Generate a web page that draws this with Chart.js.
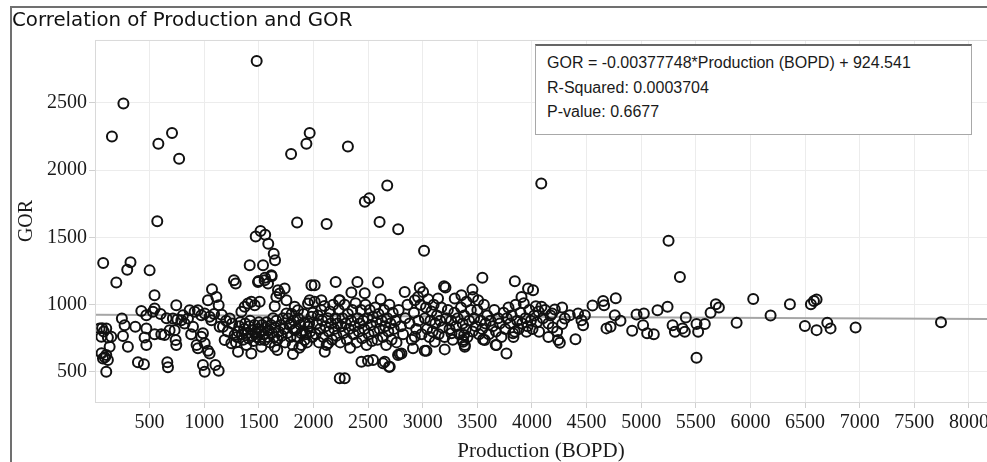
<!DOCTYPE html>
<html>
<head>
<meta charset="utf-8">
<script src="https://cdn.jsdelivr.net/npm/chart.js@4.4.1/dist/chart.umd.min.js"></script>
<style>
  html, body { margin: 0; padding: 0; background: #fff; }
  #wrap { position: relative; width: 987px; height: 462px; overflow: hidden; }
  #frame {
    position: absolute; left: 10px; top: 6px; width: 990px; height: 470px;
    border-left: 2px solid #707070; border-top: 2px solid #707070;
  }
  #chart { position: absolute; left: 0; top: 0; }
  #fit-box {
    position: absolute; left: 535px; top: 44px; width: 437px; height: 91px;
    background: #fff; border: 1px solid #a8a8a8; border-top: 2px solid #666;
    font-family: "Liberation Sans", Arial, sans-serif; font-size: 16px;
    line-height: 24.5px; color: #1a1a1a; padding: 5px 0 0 11px; box-sizing: border-box;
  }
</style>
</head>
<body>
<div id="wrap">
  <div id="frame"></div>
  <canvas id="chart" width="987" height="462"></canvas>
  <div id="fit-box"></div>
</div>
<script>
// regression shown in the box
const fitSlope = -0.00377748;
const fitIntercept = 924.541;
const fitText = [
  "GOR = -0.00377748*Production (BOPD) + 924.541",
  "R-Squared: 0.0003704",
  "P-value: 0.6677",
];

// [production BOPD, GOR]
const wellsBelow1000 = [
  [75, 1310], [195, 1165], [295, 1260], [325, 1315], [500, 1255], [545, 1070],
  [155, 2250], [260, 2495], [580, 2195], [705, 2275], [770, 2085], [570, 1620],
  [42, 824], [103, 824], [58, 761], [118, 757], [149, 761], [80, 800], [60, 640],
  [73, 601], [103, 626], [118, 589], [103, 502], [134, 687], [90, 610], [65, 825],
  [246, 898], [271, 848], [256, 767], [301, 687], [369, 836], [393, 572], [448, 557],
  [424, 954], [470, 922], [530, 947], [546, 972], [470, 824], [454, 757], [470, 700],
  [546, 781], [607, 781], [637, 774], [662, 572], [668, 535], [683, 811], [729, 811],
  [754, 890], [744, 700], [738, 737], [744, 996], [713, 898], [790, 885], [805, 922],
  [851, 898], [866, 959], [912, 947], [942, 959], [973, 922], [897, 836], [942, 676],
  [973, 761], [988, 787], [988, 552], [820, 860], [880, 780], [930, 700], [600, 930],
  [655, 900],
];

const wells1000to2000 = [
  [1004, 935], [1049, 910], [1065, 885], [1034, 1033], [1071, 1115], [1111, 1058],
  [1132, 996], [1004, 713], [1034, 658], [1049, 638], [1102, 552], [1132, 510],
  [1004, 502], [1141, 836], [1171, 836], [1187, 737], [1090, 930], [1160, 925],
  [1200, 880], [1215, 800], [1255, 860], [1233, 898], [1248, 713], [1278, 774],
  [1272, 1181], [1288, 1157], [1340, 947], [1370, 984], [1400, 1009], [1431, 1021],
  [1462, 996], [1507, 1021], [1309, 650], [1431, 638], [1523, 687], [1553, 737],
  [1645, 687], [1669, 663], [1812, 633], [1645, 989], [1660, 1058], [1690, 1083],
  [1736, 1120], [1752, 1033], [1584, 1157], [1614, 1219], [1553, 1181], [1416, 1293],
  [1538, 1293], [1492, 1169], [1471, 1507], [1515, 1547], [1558, 1520], [1586, 1453],
  [1636, 1379], [1648, 1330], [1850, 1610], [1480, 2810], [1795, 2120], [1935, 2195],
  [1965, 2275], [1828, 984], [1858, 959], [1950, 1009], [1981, 1144], [1965, 1033],
  [1981, 910], [1752, 935], [1767, 898], [1798, 861], [1828, 811], [1889, 787],
  [1950, 836], [1919, 737], [1889, 700], [1498, 1176], [1556, 1201], [1617, 1211],
  [1675, 1107],
  [1290, 720], [1300, 760], [1310, 800], [1320, 840], [1330, 870], [1345, 780],
  [1355, 740], [1365, 820], [1375, 860], [1385, 700], [1395, 790], [1405, 750],
  [1410, 840], [1420, 880], [1435, 810], [1440, 770], [1450, 730], [1460, 850],
  [1470, 790], [1480, 760], [1490, 820], [1500, 870], [1510, 740], [1520, 800],
  [1530, 850], [1540, 780], [1560, 830], [1570, 870], [1580, 760], [1590, 810],
  [1600, 720], [1610, 850], [1620, 790], [1630, 900], [1640, 760], [1650, 830],
  [1660, 880], [1670, 740], [1680, 800], [1700, 850], [1710, 770], [1720, 900],
  [1730, 820], [1740, 720], [1760, 790], [1780, 850], [1790, 760], [1800, 930],
  [1810, 700], [1820, 880], [1840, 820], [1850, 760], [1860, 900], [1870, 680],
  [1880, 850], [1900, 800], [1910, 930], [1920, 870], [1930, 780], [1940, 720],
  [1960, 860], [1970, 800], [1990, 760], [1995, 940],
];

const wells2000to3000 = [
  [2011, 1144], [2072, 1033], [2011, 1021], [2203, 1169], [2402, 1169], [2591, 1164],
  [2234, 1033], [2347, 1090], [2469, 1085], [2120, 1600], [2315, 2175], [2470, 1765],
  [2510, 1790], [2675, 1885], [2605, 1615], [2775, 1560], [2835, 1095], [2973, 1127],
  [2927, 1033], [2957, 1058], [2240, 1033], [2103, 650], [2133, 713], [2240, 453],
  [2286, 453], [2439, 576], [2499, 584], [2545, 589], [2652, 576], [2698, 539],
  [2636, 564], [2691, 539], [2774, 626], [2805, 638], [2789, 633], [2911, 676],
  [2927, 761],
  [2020, 780], [2030, 860], [2040, 920], [2050, 720], [2060, 820], [2070, 960],
  [2080, 880], [2090, 760], [2100, 990], [2110, 840], [2120, 700], [2130, 900],
  [2140, 800], [2150, 950], [2160, 860], [2170, 740], [2180, 1000], [2190, 820],
  [2200, 900], [2210, 770], [2220, 860], [2230, 960], [2245, 720], [2255, 840],
  [2265, 900], [2275, 790], [2285, 1000], [2295, 860], [2305, 740], [2315, 930],
  [2325, 820], [2335, 680], [2345, 880], [2355, 960], [2365, 780], [2375, 840],
  [2385, 1010], [2395, 720], [2405, 900], [2415, 800], [2425, 860], [2435, 960],
  [2445, 750], [2455, 880], [2465, 820], [2475, 1000], [2485, 700], [2495, 900],
  [2505, 780], [2515, 960], [2525, 850], [2535, 730], [2545, 910], [2555, 800],
  [2565, 980], [2575, 870], [2585, 740], [2595, 930], [2605, 820], [2615, 1040],
  [2625, 880], [2635, 760], [2645, 960], [2655, 840], [2665, 700], [2675, 900],
  [2685, 800], [2695, 1000], [2705, 860], [2715, 740], [2725, 940], [2735, 820],
  [2750, 880], [2760, 720], [2780, 960], [2800, 840], [2820, 780], [2840, 900],
  [2860, 1000], [2880, 860], [2900, 740], [2920, 940], [2940, 820], [2960, 880],
  [2980, 1000], [2990, 780],
];

const wells3000to4200 = [
  [3012, 1400], [3003, 1095], [3195, 1137], [3208, 1127], [3546, 1201], [3843, 1174],
  [3964, 1120], [4010, 1107], [3904, 1058], [3354, 1070], [3461, 1058], [3507, 1033],
  [3400, 1021], [3140, 1046], [3293, 1046], [3455, 1112], [4085, 1900], [3018, 658],
  [3034, 658], [3201, 668], [3369, 724], [3385, 687], [3369, 737], [3385, 700],
  [3379, 774], [3552, 742], [3568, 737], [3675, 700], [3668, 700], [3766, 638],
  [3263, 787], [3110, 724], [3827, 787], [3843, 799], [3950, 799], [4065, 799],
  [4035, 989], [4087, 984],
  [3020, 900], [3030, 980], [3040, 820], [3050, 1040], [3060, 760], [3070, 880],
  [3080, 950], [3090, 800], [3100, 1000], [3115, 860], [3130, 920], [3145, 780],
  [3160, 880], [3170, 980], [3180, 830], [3200, 760], [3215, 900], [3230, 960],
  [3245, 820], [3260, 880], [3275, 740], [3290, 940], [3305, 840], [3320, 900],
  [3335, 780], [3350, 980], [3365, 860], [3380, 920], [3395, 820], [3410, 760],
  [3425, 880], [3440, 960], [3455, 800], [3470, 900], [3485, 840], [3500, 960],
  [3515, 780], [3530, 880], [3545, 820], [3560, 1000], [3575, 860], [3590, 920],
  [3605, 780], [3620, 880], [3640, 840], [3655, 960], [3670, 800], [3690, 900],
  [3705, 860], [3720, 760], [3740, 940], [3755, 820], [3770, 900], [3785, 980],
  [3800, 860], [3815, 920], [3830, 760], [3850, 1000], [3865, 880], [3880, 820],
  [3895, 940], [3910, 860], [3925, 1010], [3940, 900], [3960, 840], [3975, 960],
  [3990, 880], [4005, 820], [4020, 920], [4045, 870], [4060, 950], [4100, 900],
  [4120, 960], [4150, 860], [4170, 920], [4190, 830],
];

const wellsAbove4200 = [
  [4184, 935], [4209, 964], [4276, 979], [4239, 737], [4255, 717], [4276, 856],
  [4300, 898], [4346, 922], [4398, 744], [4422, 935], [4453, 885], [4468, 848],
  [4484, 922], [4554, 994], [4651, 1028], [4660, 996], [4682, 824], [4719, 836],
  [4758, 922], [4767, 1048], [4810, 880], [4917, 806], [4957, 927], [5017, 848],
  [5024, 935], [5054, 787], [5115, 781], [5149, 959], [5241, 984], [5250, 1475],
  [5354, 1206], [5287, 848], [5308, 799], [5378, 824], [5399, 799], [5408, 905],
  [5506, 856], [5521, 799], [5582, 856], [5506, 606], [5635, 940], [5683, 1004],
  [5711, 979], [5873, 865], [6025, 1043], [6184, 920], [6361, 1004], [6498, 841],
  [6553, 1004], [6581, 1028], [6605, 1038], [6605, 811], [6703, 865], [6733, 824],
  [6962, 831], [7744, 870], [4230, 800], [4150, 760],
];

const xTickValues = [500, 1000, 1500, 2000, 2500, 3000, 3500, 4000,
  4500, 5000, 5500, 6000, 6500, 7000, 7500, 8000];
const yTickValues = [500, 1000, 1500, 2000, 2500];
const xRange = [0, 8165];
const yRange = [277, 2967];

const allWells = [
  ...wellsBelow1000,
  ...wells1000to2000,
  ...wells2000to3000,
  ...wells3000to4200,
  ...wellsAbove4200,
];

document.getElementById("fit-box").innerHTML = fitText.join("<br>");

const areaBorder = {
  id: "areaBorder",
  afterDraw(chart) {
    const { ctx, chartArea } = chart;
    ctx.save();
    ctx.strokeStyle = "#d9d9d9";
    ctx.lineWidth = 1;
    ctx.strokeRect(chartArea.left + 0.5, chartArea.top + 0.5,
      chartArea.right - chartArea.left, chartArea.bottom - chartArea.top);
    ctx.restore();
  },
};

const serif = "'Liberation Serif', 'Times New Roman', serif";
const plainNumber = (value) => String(value);

new Chart(document.getElementById("chart"), {
  type: "scatter",
  data: {
    datasets: [
      {
        type: "line",
        data: xRange.map((x) => ({ x, y: fitSlope * x + fitIntercept })),
        borderColor: "#a6a6a6",
        borderWidth: 2,
        pointRadius: 0,
        order: 2,
      },
      {
        data: allWells.map(([x, y]) => ({ x, y })),
        pointStyle: "circle",
        pointRadius: 5,
        pointBorderWidth: 2,
        borderColor: "#111",
        backgroundColor: "rgba(0,0,0,0)",
        order: 1,
      },
    ],
  },
  options: {
    responsive: false,
    animation: false,
    layout: { autoPadding: false, padding: { left: 12, top: 0, right: 0, bottom: 0 } },
    plugins: {
      legend: { display: false },
      tooltip: { enabled: false },
      title: {
        display: true,
        text: "Correlation of Production and GOR",
        align: "start",
        color: "#111",
        font: { family: "'DejaVu Sans', sans-serif", size: 19.8, weight: "normal", lineHeight: 1.2 },
        padding: { top: 9, bottom: 7.2 },
      },
    },
    scales: {
      x: {
        min: xRange[0],
        max: xRange[1],
        afterBuildTicks: (scale) => { scale.ticks = xTickValues.map((value) => ({ value })); },
        afterFit: (scale) => {
          scale.height = 60;
          scale.paddingLeft = 0;
          scale.paddingRight = 0;
        },
        grid: { color: "#ececec", tickColor: "#d0d0d0", tickLength: 6 },
        border: { display: false },
        ticks: {
          maxRotation: 0,
          autoSkip: false,
          padding: 3,
          color: "#1a1a1a",
          font: { family: serif, size: 20 },
          callback: plainNumber,
        },
        title: {
          display: true,
          text: "Production (BOPD)",
          color: "#1a1a1a",
          font: { family: serif, size: 21, lineHeight: 1 },
          padding: { top: 0, bottom: 0 },
        },
      },
      y: {
        min: yRange[0],
        max: yRange[1],
        afterBuildTicks: (scale) => { scale.ticks = yTickValues.map((value) => ({ value })); },
        afterFit: (scale) => {
          scale.width = 83;
          scale.paddingTop = 0;
          scale.paddingBottom = 0;
        },
        grid: { color: "#ececec", tickColor: "#d0d0d0", tickLength: 6 },
        border: { display: false },
        ticks: {
          padding: 2,
          color: "#1a1a1a",
          font: { family: serif, size: 20 },
          callback: plainNumber,
        },
        title: {
          display: true,
          text: "GOR",
          color: "#1a1a1a",
          font: { family: serif, size: 20, lineHeight: 1 },
          padding: { top: 5, bottom: 0 },
        },
      },
    },
  },
  plugins: [areaBorder],
});
</script>
</body>
</html>
